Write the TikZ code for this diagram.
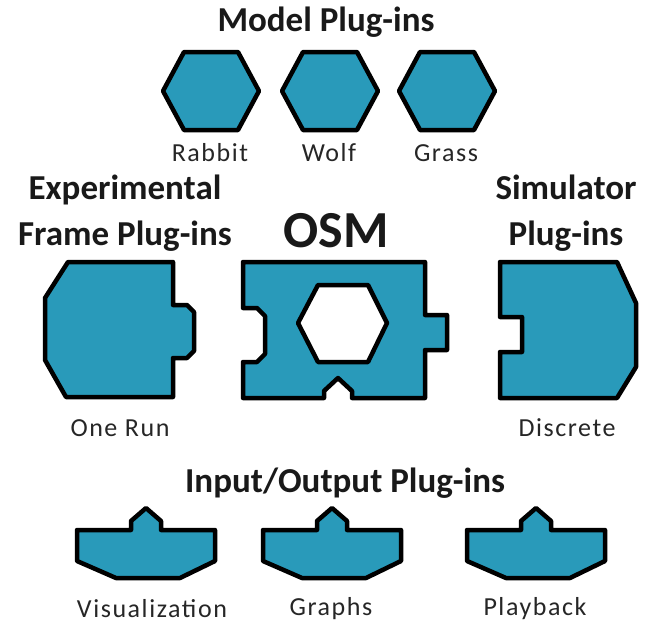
\documentclass[tikz,border=0pt]{standalone}
\usepackage{fontspec}
\setmainfont{Carlito}
\newfontfamily\labelfont[LetterSpace=6]{Carlito}
\definecolor{plugblue}{RGB}{41,154,186}
\tikzset{
  plugin/.style={fill=plugblue,draw=black,line width=4.5pt,line join=round},
  hole/.style={fill=white,draw=black,line width=4.5pt,line join=round},
  heading/.style={font=\fontsize{35}{46}\selectfont\bfseries,align=center,text=black!90,inner sep=0pt},
  caption/.style={font=\labelfont\fontsize{26}{30}\selectfont,text=black!85,inner sep=0pt},
}
\begin{document}
\begin{tikzpicture}[x=1pt,y=-1pt]
  \useasboundingbox (0,0) rectangle (650,625);

  % model plug-ins
  \node[heading] (model) at (326,22) {Model Plug-ins};
  \foreach \cx/\name in {211/Rabbit,330/Wolf,447/Grass}{
    \draw[plugin] (\cx-48,91) -- (\cx-27,52) -- (\cx+27,52) -- (\cx+48,91) -- (\cx+27,130) -- (\cx-27,130) -- cycle;
    \node[caption] (\name) at (\cx-1,153) {\name};
  }

  % experimental frame, core, simulator
  \node[heading] (frame) at (125,213) {Experimental\\Frame Plug-ins};
  \node[heading,font=\fontsize{52}{60}\selectfont\bfseries] (osm) at (336,231) {OSM};
  \node[heading] (sim) at (566,213) {Simulator\\Plug-ins};

  \draw[plugin] (68,262) -- (173,262) -- (173,305) -- (187,305) -- (194,312) -- (194,351) -- (187,358) -- (173,358)
    -- (173,397) -- (66,397) -- (45,360) -- (45,298) -- cycle;
  \draw[plugin] (243,262) -- (425,262) -- (425,315) -- (447,315) -- (447,350) -- (425,350) -- (425,398) -- (352,398)
    -- (352,391) -- (338,378) -- (324,391) -- (324,398) -- (243,398) -- (243,362) -- (257,362) -- (265,354)
    -- (265,316) -- (257,308) -- (243,308) -- cycle;
  \draw[hole] (298,323) -- (318,285) -- (368,285) -- (387,323) -- (368,362) -- (318,362) -- cycle;
  \draw[plugin] (500,262) -- (617,262) -- (636,303) -- (636,367) -- (617,398) -- (500,398) -- (500,352) -- (522,352)
    -- (522,317) -- (500,317) -- cycle;

  \node[caption] (onerun) at (120,428) {One Run};
  \node[caption] (discrete) at (567,428) {Discrete};

  % input/output plug-ins
  \node[heading] (io) at (345,483) {Input/Output Plug-ins};
  \foreach \cx/\lx/\name in {146/152/Visualization,332/331/Graphs,536/535/Playback}{
    \draw[plugin] (\cx-69,530) -- (\cx-15,530) -- (\cx-15,521) -- (\cx,508) -- (\cx+15,521) -- (\cx+15,530) -- (\cx+69,530)
      -- (\cx+69,561) -- (\cx+34,578) -- (\cx-30,578) -- (\cx-69,561) -- cycle;
    \node[caption] (\name) at (\lx,609) {\name};
  }
\end{tikzpicture}
\end{document}
